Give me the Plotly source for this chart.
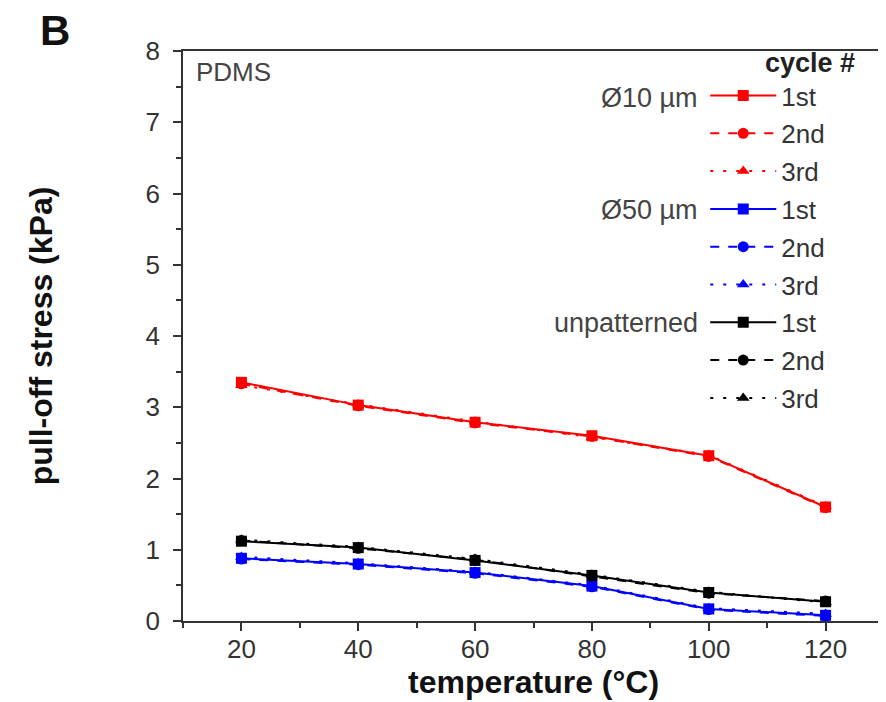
import plotly.graph_objects as go

temperature = [20, 40, 60, 80, 100, 120]

# pull-off stress (kPa) for each pattern and cycle
d10_1st = [3.35, 3.03, 2.79, 2.60, 2.32, 1.60]
d10_2nd = [3.33, 3.02, 2.78, 2.59, 2.31, 1.59]
d10_3rd = [3.31, 3.04, 2.80, 2.58, 2.33, 1.61]

d50_1st = [0.88, 0.80, 0.68, 0.49, 0.17, 0.08]
d50_2nd = [0.87, 0.79, 0.67, 0.48, 0.16, 0.07]
d50_3rd = [0.90, 0.81, 0.69, 0.50, 0.18, 0.10]

unp_1st = [1.12, 1.03, 0.85, 0.64, 0.40, 0.27]
unp_2nd = [1.13, 1.02, 0.86, 0.63, 0.39, 0.28]
unp_3rd = [1.14, 1.04, 0.87, 0.65, 0.41, 0.26]

cycle_names = ["1st", "2nd", "3rd"]
group_labels = ["\u00d810 \u00b5m", "\u00d850 \u00b5m", "unpatterned"]

groups = [
    ("#ff0000", [d10_1st, d10_2nd, d10_3rd]),
    ("#0000ff", [d50_1st, d50_2nd, d50_3rd]),
    ("#000000", [unp_1st, unp_2nd, unp_3rd]),
]
styles = [("solid", "square"), ("dash", "circle"), ("3px,10px", "triangle-up")]

fig = go.Figure()
k = 0
for color, series in groups:
    for (dash, sym), name, vals in zip(styles, cycle_names, series):
        fig.add_trace(go.Scatter(
            x=temperature, y=vals, name=name, mode="lines+markers",
            line=dict(color=color, width=2, dash=dash),
            marker=dict(symbol=sym, size=11, color=color),
            legendgroup="g%d" % k,
        ))
        k += 1

font_fam = "Liberation Sans, Arial, sans-serif"
axis_common = dict(
    showline=True, linecolor="#333", linewidth=1.5, mirror=True,
    ticks="outside", ticklen=8, tickwidth=1.5, tickcolor="#333",
    showgrid=False, zeroline=False,
    tickfont=dict(family=font_fam, size=26, color="#333"),
)

fig.update_layout(
    width=886, height=702,
    margin=dict(l=175, r=8, t=43, b=89),
    paper_bgcolor="white", plot_bgcolor="white",
    font=dict(family=font_fam, color="#222"),
    xaxis=dict(range=[10, 130], tickvals=[20, 40, 60, 80, 100, 120],
               minor=dict(ticks="outside", ticklen=5, tickcolor="#333", dtick=10, tick0=10),
               ticklabelstandoff=-4,
               title=dict(text="<b>temperature (\u00b0C)</b>", font=dict(size=32, color="#111"), standoff=2),
               **axis_common),
    yaxis=dict(range=[0, 8], dtick=1,
               minor=dict(ticks="outside", ticklen=5, tickcolor="#333", dtick=0.5),
               ticklabelstandoff=8,
               title=dict(text="<b>pull-off stress (kPa)</b>", font=dict(size=32, color="#111"), standoff=83),
               **axis_common),
    legend=dict(x=0.745, y=0.963, xanchor="left", yanchor="top",
                bgcolor="rgba(0,0,0,0)", itemwidth=66, tracegroupgap=1,
                font=dict(family=font_fam, size=26, color="#333")),
    showlegend=True,
)

fig.add_annotation(text="PDMS", xref="paper", yref="paper", x=0.015, y=0.963,
                   xanchor="left", yanchor="middle", showarrow=False,
                   font=dict(family=font_fam, size=26, color="#444"))
fig.add_annotation(text="<b>cycle #</b>", xref="paper", yref="paper", x=0.962, y=0.979,
                   xanchor="right", yanchor="middle", showarrow=False,
                   font=dict(family=font_fam, size=27, color="#222"))
for i, lab in enumerate(group_labels):
    fig.add_annotation(text=lab, xref="paper", yref="paper", x=0.737,
                       y=0.918 - i * 0.1975, xanchor="right", yanchor="middle",
                       showarrow=False, font=dict(family=font_fam, size=27, color="#444"))
fig.add_annotation(text="<b>B</b>", xref="paper", yref="paper", x=-0.182, y=1.036,
                   xanchor="center", yanchor="middle", showarrow=False,
                   font=dict(family=font_fam, size=42, color="#111"))

fig.write_html("out.html")
